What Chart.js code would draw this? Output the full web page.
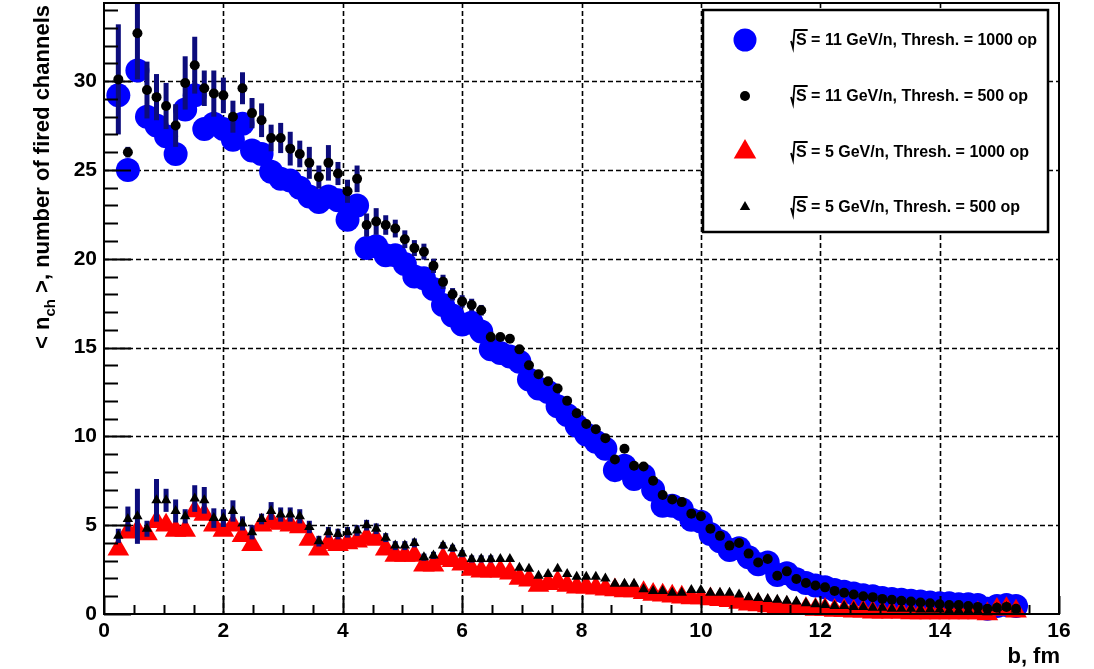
<!doctype html>
<html lang="en">
  <head>
    <meta charset="utf-8">
    <title>Fired channels vs impact parameter</title>
    <style>
      * {
        margin: 0;
        padding: 0;
      }
      body {
        background: white;
      }
      #nchChart {
        display: block;
      }
    </style>
  </head>
  <body>
    <canvas id="nchChart" width="1094" height="669"></canvas>
    <script src="https://cdn.jsdelivr.net/npm/chart.js/dist/chart.umd.min.js"></script>
    <script>
    // impact parameter bin centres, fm
    const impactB = [0.24,0.40,0.56,0.72,0.88,1.04,1.20,1.36,1.52,1.68,
      1.84,2.00,2.16,2.32,2.48,2.64,2.80,2.96,3.12,3.28,
      3.44,3.60,3.76,3.92,4.08,4.24,4.40,4.56,4.72,4.88,
      5.04,5.20,5.36,5.52,5.68,5.84,6.00,6.16,6.32,6.48,
      6.64,6.80,6.96,7.12,7.28,7.44,7.60,7.76,7.92,8.08,
      8.24,8.40,8.56,8.72,8.88,9.04,9.20,9.36,9.52,9.68,
      9.84,10.00,10.16,10.32,10.48,10.64,10.80,10.96,11.12,11.28,
      11.44,11.60,11.76,11.92,12.08,12.24,12.40,12.56,12.72,12.88,
      13.04,13.20,13.36,13.52,13.68,13.84,14.00,14.16,14.32,14.48,
      14.64,14.80,14.96,15.12,15.28];

    // <n_ch> at sqrt(s) = 11 GeV/n, threshold 1000 op
    const nch11Thr1000 = [29.2,25.0,30.6,28.0,27.5,26.9,25.9,28.4,29.2,27.3,
      27.6,27.3,26.7,27.6,26.1,25.9,24.9,24.5,24.4,24.0,
      23.5,23.2,23.5,23.3,22.2,23.0,20.6,20.7,20.2,20.2,
      19.7,19.0,18.9,18.3,17.4,16.8,16.3,16.4,15.9,14.9,
      14.7,14.5,14.2,13.2,12.7,12.5,11.7,11.2,10.6,10.1,
      9.7,9.3,8.1,8.35,7.6,7.8,7.0,6.1,6.1,5.9,
      5.3,5.2,4.5,4.1,3.6,3.7,3.2,2.8,2.9,2.2,
      2.3,1.95,1.75,1.6,1.5,1.35,1.25,1.15,1.05,1.0,
      0.9,0.85,0.8,0.75,0.7,0.65,0.6,0.6,0.55,0.55,
      0.5,0.3,0.45,0.5,0.45];

    // <n_ch> at sqrt(s) = 11 GeV/n, threshold 500 op
    const nch11Thr500 = [30.1,26.0,32.7,29.5,29.1,28.6,27.5,29.9,30.9,29.6,
      29.3,29.2,28.0,29.6,28.2,27.8,26.8,26.8,26.2,25.9,
      25.4,24.6,25.4,24.8,23.8,24.5,21.9,22.1,21.9,21.7,
      21.1,20.6,20.4,19.6,18.7,18.0,17.6,17.4,17.1,15.6,
      15.6,15.5,14.9,14.0,13.5,13.1,12.7,12.0,11.3,10.7,
      10.4,9.9,8.7,9.3,8.35,8.3,7.5,6.7,6.45,6.3,
      5.65,5.5,4.8,4.4,3.85,4.0,3.4,2.9,3.1,2.15,
      2.4,1.97,1.75,1.6,1.5,1.3,1.2,1.1,1.0,0.95,
      0.85,0.8,0.75,0.7,0.65,0.6,0.55,0.5,0.5,0.45,
      0.4,0.3,0.35,0.4,0.3];

    // <n_ch> at sqrt(s) = 5 GeV/n, threshold 1000 op
    const nch5Thr1000 = [3.65,4.6,4.7,4.5,5.2,5.0,4.7,4.7,5.8,5.6,
      5.0,4.7,5.0,4.4,3.9,5.0,5.2,5.1,5.0,4.9,
      4.2,3.65,4.0,3.9,4.0,4.1,4.3,4.2,3.65,3.3,
      3.3,3.3,2.75,2.75,3.1,3.0,2.8,2.5,2.4,2.4,
      2.4,2.3,2.0,1.9,1.6,1.7,1.8,1.6,1.5,1.5,
      1.45,1.4,1.35,1.3,1.3,1.2,1.1,1.05,1.0,0.95,
      0.9,0.9,0.85,0.8,0.75,0.65,0.55,0.5,0.45,0.4,
      0.35,0.3,0.3,0.25,0.25,0.2,0.2,0.15,0.15,0.1,
      0.1,0.1,0.1,0.05,0.05,0.05,0.05,0.05,0.05,0.05,
      0.05,0.0,0.25,0.3,0.15];

    // <n_ch> at sqrt(s) = 5 GeV/n, threshold 500 op
    const nch5Thr500 = [4.4,5.35,5.5,4.8,6.4,6.4,5.8,5.5,6.5,6.4,
      5.4,5.4,5.8,5.1,4.6,5.35,5.8,5.6,5.6,5.5,
      4.9,4.1,4.6,4.5,4.6,4.7,5.0,4.8,4.3,3.85,
      3.85,4.0,3.2,3.3,3.85,3.7,3.4,3.1,3.1,3.1,
      3.1,3.1,2.6,2.55,2.15,2.25,2.55,2.25,2.1,2.1,
      2.1,2.0,1.7,1.7,1.7,1.4,1.3,1.3,1.2,1.2,
      1.35,1.35,1.2,1.2,1.2,1.1,0.95,0.9,0.85,0.8,
      0.75,0.7,0.6,0.55,0.5,0.45,0.45,0.4,0.4,0.35,
      0.35,0.3,0.3,0.3,0.25,0.25,0.25,0.2,0.2,0.2,
      0.15,0.1,0.35,0.4,0.25];

    // statistical errors for the first bins (500 op points)
    const err11 = [3.1,0.3,2.6,1.6,1.3,1.3,1.2,1.5,1.6,1.0,
      1.3,1.0,0.9,0.9,0.85,0.95,0.75,0.85,0.95,0.75,
      0.9,0.65,1.0,0.65,0.65,0.75,0.65,0.75,0.55,0.5,
      0.5,0.45,0.45,0.4,0.4,0.35,0.35,0.35,0.3,0.3];
    const err5 = [0.4,0.7,1.55,0.45,1.2,0.65,0.65,0.4,0.75,0.75,
      0.55,0.5,0.6,0.4,0.4,0.3,0.5,0.4,0.4,0.4,
      0.35,0.3,0.3,0.3,0.3,0.3,0.3,0.3,0.25,0.25,
      0.25,0.25,0.2,0.2,0.2,0.2,0.2,0.2,0.2,0.2];

    const xTicks = [0, 2, 4, 6, 8, 10, 12, 14, 16];
    const yTicks = [0, 5, 10, 15, 20, 25, 30];
    const legendLabels = [
      ' = 11 GeV/n, Thresh. = 1000 op',
      ' = 11 GeV/n, Thresh. = 500 op',
      ' = 5 GeV/n, Thresh. = 1000 op',
      ' = 5 GeV/n, Thresh. = 500 op'
    ];

    const toPoints = vals => impactB.map((b, i) => ({ x: b, y: vals[i] }));
    const tickFont = { family: '"Liberation Sans", Arial, sans-serif', size: 21, weight: 'bold' };
    const errColor = '#0c0c7c';

    // ROOT-like frame: dashed grid, inward ticks, legend box and titles
    const rootStyle = {
      id: 'rootStyle',
      beforeDatasetsDraw(chart) {
        const { ctx, chartArea: a, scales: { x, y } } = chart;
        ctx.save();
        ctx.strokeStyle = '#000';
        ctx.lineWidth = 1.6;
        ctx.setLineDash([5, 3]);
        xTicks.slice(1, -1).forEach(v => {
          const px = Math.round(x.getPixelForValue(v)) + 0.5;
          ctx.beginPath(); ctx.moveTo(px, a.top); ctx.lineTo(px, a.bottom); ctx.stroke();
        });
        yTicks.slice(1).forEach(v => {
          const py = Math.round(y.getPixelForValue(v)) + 0.5;
          ctx.beginPath(); ctx.moveTo(a.left, py); ctx.lineTo(a.right, py); ctx.stroke();
        });
        ctx.restore();
      },
      beforeDatasetDraw(chart, args) {
        if (args.index !== 1) return;
        const { ctx, chartArea: a, scales: { x, y } } = chart;
        ctx.save();
        ctx.beginPath();
        ctx.rect(a.left, a.top, a.right - a.left, a.bottom - a.top);
        ctx.clip();
        ctx.strokeStyle = errColor;
        ctx.lineWidth = 5;
        const bars = (vals, errs) => errs.forEach((e, i) => {
          const px = x.getPixelForValue(impactB[i]);
          ctx.beginPath();
          ctx.moveTo(px, y.getPixelForValue(vals[i] + e));
          ctx.lineTo(px, y.getPixelForValue(vals[i] - e));
          ctx.stroke();
        });
        bars(nch11Thr500, err11);
        bars(nch5Thr500, err5);
        ctx.restore();
      },
      afterDatasetsDraw(chart) {
        const { ctx, chartArea: a, scales: { x, y } } = chart;
        ctx.save();
        ctx.strokeStyle = '#000';
        ctx.lineWidth = 2;
        // inward ticks on left and bottom axes
        for (let v = 0; v <= 34; v += 1) {
          const py = Math.round(y.getPixelForValue(v)) + 0.5;
          const len = v % 5 === 0 ? 27 : 14;
          ctx.beginPath(); ctx.moveTo(a.left, py); ctx.lineTo(a.left + len, py); ctx.stroke();
        }
        for (let v = 0; v <= 16; v += 0.5) {
          const px = Math.round(x.getPixelForValue(v)) + 0.5;
          const len = v % 2 === 0 ? 18 : 9;
          ctx.beginPath(); ctx.moveTo(px, a.bottom); ctx.lineTo(px, a.bottom - len); ctx.stroke();
        }
        ctx.strokeRect(a.left, a.top, a.right - a.left, a.bottom - a.top);

        // legend box
        const bx = 703, by = 10, bw = 345, bh = 222;
        ctx.fillStyle = '#fff';
        ctx.fillRect(bx, by, bw, bh);
        ctx.lineWidth = 2.5;
        ctx.strokeRect(bx, by, bw, bh);
        const rows = [40, 96, 152, 207];
        const mx = 745;
        ctx.fillStyle = '#0000ff';
        ctx.beginPath(); ctx.arc(mx, rows[0], 11.5, 0, Math.PI * 2); ctx.fill();
        ctx.fillStyle = '#000';
        ctx.beginPath(); ctx.arc(mx, rows[1], 5, 0, Math.PI * 2); ctx.fill();
        const tri = (cy, r, col) => {
          ctx.fillStyle = col;
          ctx.beginPath();
          ctx.moveTo(mx, cy - r);
          ctx.lineTo(mx + r * 0.866, cy + r * 0.5);
          ctx.lineTo(mx - r * 0.866, cy + r * 0.5);
          ctx.closePath();
          ctx.fill();
        };
        tri(rows[2], 13, '#ff0000');
        tri(rows[3], 6, '#000');

        ctx.fillStyle = '#000';
        ctx.font = 'bold 16px "Liberation Sans", Arial, sans-serif';
        ctx.textBaseline = 'middle';
        ctx.lineWidth = 1.8;
        rows.forEach((ry, i) => {
          const tx = 791;
          const sW = ctx.measureText('S').width;
          // radical sign over S
          ctx.beginPath();
          ctx.moveTo(tx, ry + 1);
          ctx.lineTo(tx + 2, ry + 8);
          ctx.lineTo(tx + 3.5, ry - 10);
          ctx.lineTo(tx + 5 + sW + 1, ry - 10);
          ctx.stroke();
          ctx.fillText('S', tx + 5, ry + 1);
          ctx.fillText(legendLabels[i], tx + 5 + sW, ry + 1);
        });

        // axis titles
        const titleFont = 'bold 22px "Liberation Sans", Arial, sans-serif';
        const subFont = 'bold 15px "Liberation Sans", Arial, sans-serif';
        ctx.font = titleFont;
        ctx.textBaseline = 'alphabetic';
        ctx.textAlign = 'right';
        ctx.fillText('b, fm', 1060, 663);

        ctx.textAlign = 'left';
        const parts = [['< n', titleFont, 0], ['ch', subFont, 6], [' >, number of fired channels', titleFont, 0]];
        const widths = parts.map(([t, f]) => { ctx.font = f; return ctx.measureText(t).width; });
        const total = widths.reduce((s, w) => s + w, 0);
        ctx.translate(49, 5);
        ctx.rotate(-Math.PI / 2);
        let cx = -total;
        parts.forEach(([t, f, dy], i) => {
          ctx.font = f;
          ctx.fillText(t, cx, dy);
          cx += widths[i];
        });
        ctx.restore();
      }
    };

    const data = {
      datasets: [
        {
          label: 'nch11Thr1000',
          data: toPoints(nch11Thr1000),
          pointStyle: 'circle',
          pointRadius: 12,
          backgroundColor: '#0000ff',
          borderColor: '#0000ff',
          borderWidth: 0,
          order: 4,
          clip: false
        },
        {
          label: 'nch11Thr500',
          data: toPoints(nch11Thr500),
          pointStyle: 'circle',
          pointRadius: 5,
          backgroundColor: '#000',
          borderColor: '#000',
          borderWidth: 0,
          order: 2,
          clip: false
        },
        {
          label: 'nch5Thr1000',
          data: toPoints(nch5Thr1000),
          pointStyle: 'triangle',
          pointRadius: 12.5,
          backgroundColor: '#ff0000',
          borderColor: '#ff0000',
          borderWidth: 0,
          order: 3,
          clip: false
        },
        {
          label: 'nch5Thr500',
          data: toPoints(nch5Thr500),
          pointStyle: 'triangle',
          pointRadius: 6,
          backgroundColor: '#000',
          borderColor: '#000',
          borderWidth: 0,
          order: 1,
          clip: false
        }
      ]
    };

    const config = {
      type: 'scatter',
      data,
      options: {
        responsive: false,
        animation: false,
        devicePixelRatio: 1,
        layout: { autoPadding: false, padding: { top: 3, right: 35, left: 0, bottom: 0 } },
        plugins: { legend: { display: false }, tooltip: { enabled: false } },
        scales: {
          x: {
            type: 'linear',
            min: 0,
            max: 16,
            afterBuildTicks: s => { s.ticks = xTicks.map(v => ({ value: v })); },
            afterFit: s => { s.height = 55; s.paddingLeft = 0; s.paddingRight = 0; },
            ticks: { font: tickFont, color: '#000', padding: 5, maxRotation: 0, autoSkip: false },
            grid: { display: false, drawTicks: false },
            border: { display: false }
          },
          y: {
            type: 'linear',
            min: 0,
            max: 34.4,
            afterBuildTicks: s => { s.ticks = yTicks.map(v => ({ value: v })); },
            afterFit: s => { s.width = 104; s.paddingTop = 0; s.paddingBottom = 0; },
            ticks: { font: tickFont, color: '#000', padding: 7, autoSkip: false },
            grid: { display: false, drawTicks: false },
            border: { display: false }
          }
        }
      },
      plugins: [rootStyle]
    };

    const nchChart = new Chart(document.getElementById('nchChart'), config);
    </script>
  </body>
</html>
